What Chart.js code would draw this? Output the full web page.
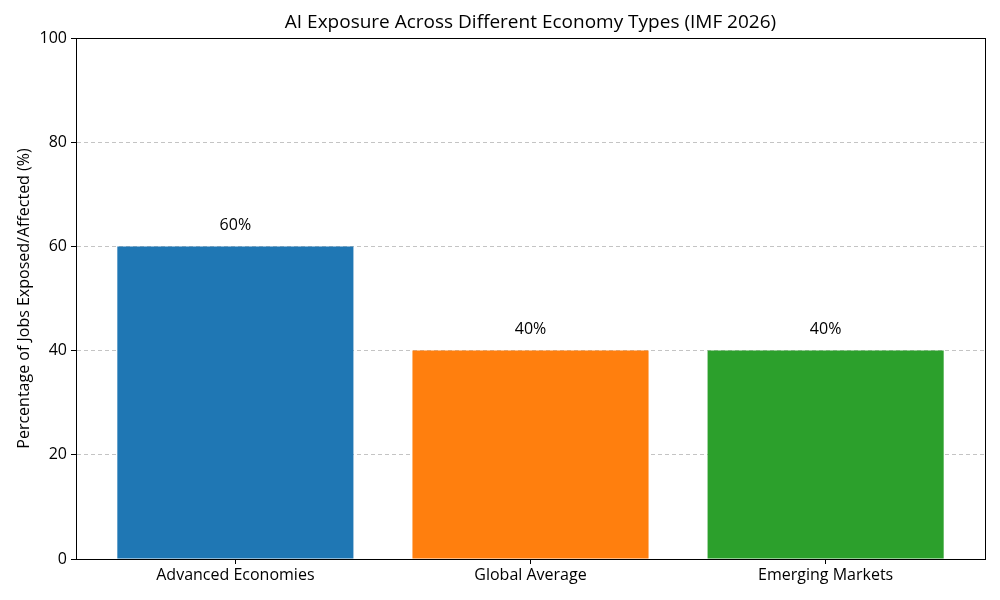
<!DOCTYPE html>
<html>
<head>
<meta charset="utf-8">
<script src="https://cdn.jsdelivr.net/npm/chart.js@4"></script>
<style>
  html, body { margin: 0; padding: 0; background: #fff; }
  #wrap { width: 1000px; height: 600px; }
</style>
</head>
<body>
<div id="wrap"><canvas id="chart" width="1000" height="600"></canvas></div>
<script>
const categories = ["Advanced Economies", "Global Average", "Emerging Markets"];
const exposure = [60, 40, 40];
const barColors = ["#1f77b4", "#ff7f0e", "#2ca02c"];
const yTicks = [0, 20, 40, 60, 80, 100];

const FONT = "'Open Sans', Roboto, sans-serif";

// etiquetas encima de cada barra + borde del área
const extras = {
  id: "extras",
  afterDatasetsDraw(chart) {
    const ctx = chart.ctx;
    const meta = chart.getDatasetMeta(0);
    ctx.save();
    ctx.font = "16px " + FONT;
    ctx.fillStyle = "#000";
    ctx.textAlign = "center";
    ctx.textBaseline = "middle";
    meta.data.forEach((bar, i) => {
      ctx.fillText(exposure[i] + "%", bar.x, bar.y - 21);
    });
    ctx.restore();
  },
  afterDraw(chart) {
    const a = chart.chartArea;
    const ctx = chart.ctx;
    ctx.save();
    ctx.strokeStyle = "#000";
    ctx.lineWidth = 1;
    ctx.strokeRect(Math.round(a.left) + 0.5, Math.round(a.top) + 0.5,
      Math.round(a.right - a.left), Math.round(a.bottom - a.top));
    ctx.restore();
  }
};

const ctx = document.getElementById("chart").getContext("2d");
new Chart(ctx, {
  type: "bar",
  data: {
    datasets: [{
      data: exposure.map((v, i) => ({ x: i, y: v })),
      backgroundColor: barColors,
      borderWidth: 0,
      barPercentage: 1,
      categoryPercentage: 0.8
    }]
  },
  options: {
    responsive: false,
    animation: false,
    layout: { padding: { left: 15, right: 15, top: 0, bottom: 0 } },
    plugins: {
      legend: { display: false },
      tooltip: { enabled: false },
      title: {
        display: true,
        fullSize: false,
        text: "AI Exposure Across Different Economy Types (IMF 2026)",
        color: "#000",
        font: { family: FONT, size: 19, weight: "normal" },
        padding: { top: 11, bottom: 4.2 }
      }
    },
    scales: {
      x: {
        type: "linear",
        offset: false,
        min: -0.54,
        max: 2.54,
        afterBuildTicks(scale) {
          scale.ticks = [0, 1, 2].map(v => ({ value: v }));
        },
        afterFit(scale) { scale.height = 41; },
        ticks: {
          color: "#000",
          font: { family: FONT, size: 16 },
          padding: 2,
          maxRotation: 0,
          autoSkip: false,
          callback: v => categories[v]
        },
        grid: {
          offset: false,
          drawOnChartArea: false,
          drawTicks: true,
          tickLength: 5,
          tickColor: "#000"
        },
        border: { color: "#000" }
      },
      y: {
        min: 0,
        max: 100,
        afterBuildTicks(scale) {
          scale.ticks = yTicks.map(v => ({ value: v }));
        },
        afterFit(scale) { scale.width = 61; },
        ticks: {
          color: "#000",
          font: { family: FONT, size: 16 },
          padding: 4
        },
        title: {
          display: true,
          text: "Percentage of Jobs Exposed/Affected (%)",
          color: "#000",
          font: { family: FONT, size: 16 },
          padding: { top: 0, bottom: 6 }
        },
        grid: {
          color: "rgba(176,176,176,0.75)",
          tickLength: 5,
          tickColor: "#000",
          tickBorderDash: []
        },
        border: { color: "#000", dash: [4, 3] }
      }
    }
  },
  plugins: [extras]
});
</script>
</body>
</html>
